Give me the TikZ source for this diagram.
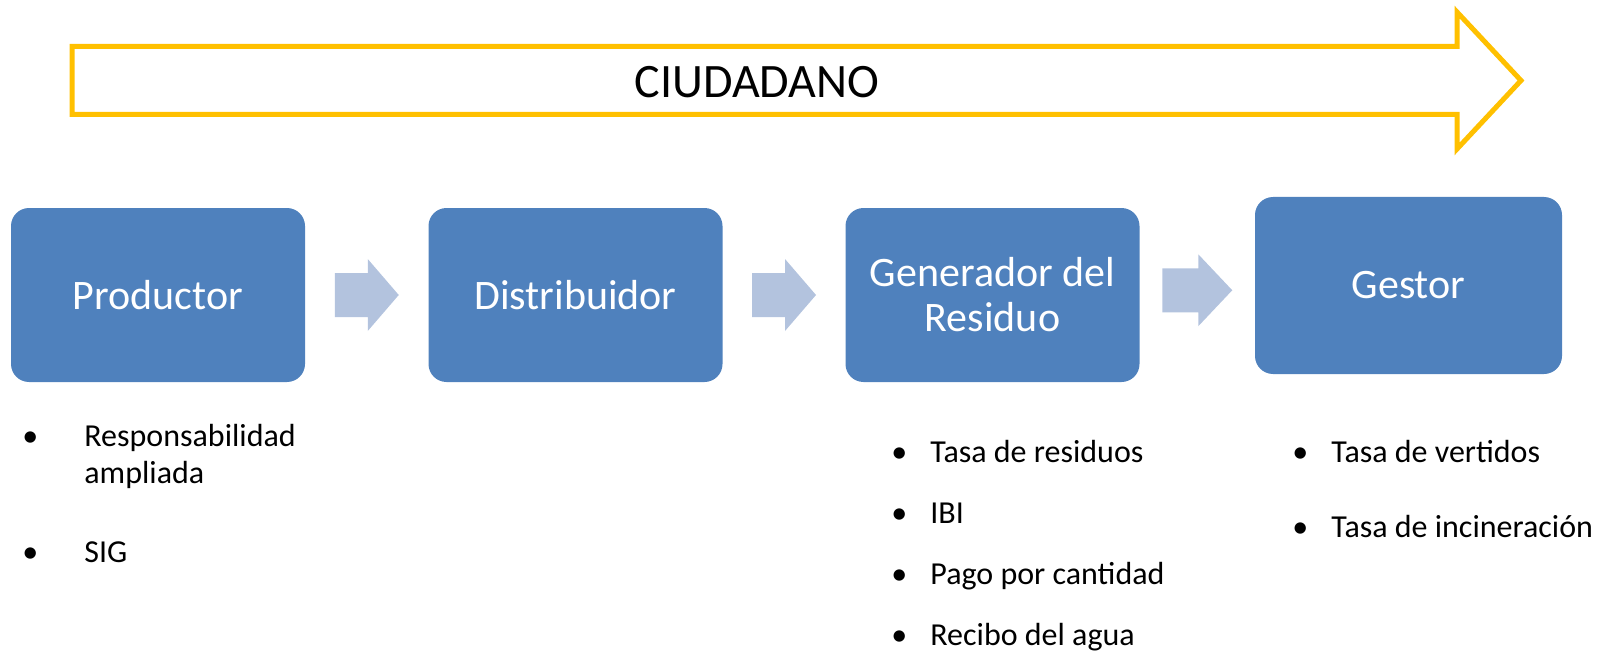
\documentclass[tikz,border=0pt]{standalone}
\usepackage{fontspec}
\setmainfont{Carlito}
\usetikzlibrary{math,calc}
\definecolor{amarillo}{HTML}{FFC000}
\definecolor{azul}{HTML}{4F81BD}
\definecolor{azulclaro}{HTML}{B3C3DE}

\begin{document}
\begin{tikzpicture}[x=0.5pt, y=-0.5pt,
        caja/.style={fill=azul, rounded corners=9pt, text=white, align=center,
            font=\fontsize{21}{22.5}\selectfont, minimum width=147pt, minimum height=87pt},
        lista/.style={anchor=base west, align=left, inner sep=0pt, font=\fontsize{16}{18.5}\selectfont}]
            \tikzmath{\sh = 22; \hd = 14; \sl = 33; \hl = 31;}
            \useasboundingbox (0,0) rectangle (1602,658);

            \draw[amarillo, line width=2.5pt] (72,46.5) -- (1457,46.5) -- (1457,12) -- (1521,80.5)
                -- (1457,149) -- (1457,114.5) -- (72,114.5) -- cycle;
            \node (ciu) at (757,82) {\fontsize{24}{28}\selectfont CIUDADANO};

            \node[caja] (prod) at (158,295) {Productor};
            \node[caja] (dist) at (575.5,295) {Distribuidor};
            \node[caja] (gen) at (992.5,295) {Generador del\\Residuo};
            \node[caja, minimum width=153.5pt, minimum height=88.5pt] (gest) at (1408.5,285.5) {Gestor};

            \coordinate (f1) at ($(prod.east)!0.5!(dist.west)$);
            \coordinate (f2) at ($(dist.east)!0.5!(gen.west)$);
            \coordinate (f3) at ($(gen.east)!0.5!(gest.west)$);
            \fill[azulclaro] (f1) ++(-32,-\sh) -- ++(\sl,0) -- ++(0,-\hd) -- ++(\hl,\sh+\hd)
                -- ++(-\hl,\sh+\hd) -- ++(0,-\hd) -- ++(-\sl,0) -- cycle;
            \fill[azulclaro] (f2) ++(-32,-\sh) -- ++(\sl,0) -- ++(0,-\hd) -- ++(\hl,\sh+\hd)
                -- ++(-\hl,\sh+\hd) -- ++(0,-\hd) -- ++(-\sl,0) -- cycle;
            \fill[azulclaro] (f3) ++(-35,-\sh) -- ++(\sl+3,0) -- ++(0,-\hd) -- ++(\hl+3,\sh+\hd)
                -- ++(-\hl-3,\sh+\hd) -- ++(0,-\hd) -- ++(-\sl-3,0) -- cycle;

            % base of a two-line node is its last line
            \node[lista] (r1) at (22,483) {\makebox[31pt][l]{\textbullet}Responsabilidad\\\hspace*{31pt}ampliada};
            \node[lista] (r2) at (22,562) {\makebox[31pt][l]{\textbullet}SIG};

            \node[lista] (g1) at (891,462) {\makebox[19.5pt][l]{\textbullet}Tasa de residuos};
            \node[lista] (g2) at (891,523) {\makebox[19.5pt][l]{\textbullet}IBI};
            \node[lista] (g3) at (891,584) {\makebox[19.5pt][l]{\textbullet}Pago por cantidad};
            \node[lista] (g4) at (891,645) {\makebox[19.5pt][l]{\textbullet}Recibo del agua};

            \node[lista] (t1) at (1292,462) {\makebox[19.5pt][l]{\textbullet}Tasa de vertidos};
            \node[lista] (t2) at (1292,537) {\makebox[19.5pt][l]{\textbullet}Tasa de incineración};
        \end{tikzpicture}
\end{document}
